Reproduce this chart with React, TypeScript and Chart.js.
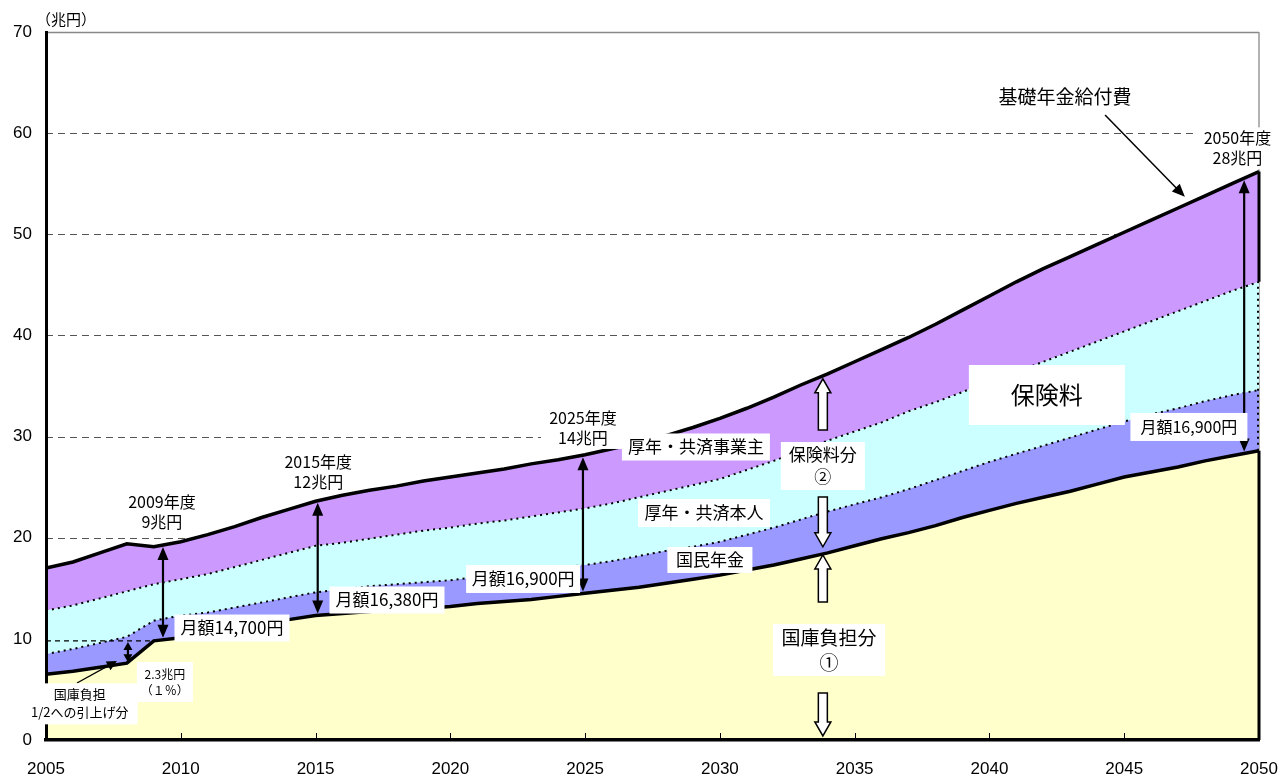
import React, { useEffect, useRef } from 'react';
import { Chart, registerables } from 'chart.js';

Chart.register(...registerables);

// ---- data (兆円) ----
const years = [
  2005, 2006, 2007, 2008, 2009, 2010, 2011, 2012, 2013, 2014,
  2015, 2016, 2017, 2018, 2019, 2020, 2021, 2022, 2023, 2024,
  2025, 2026, 2027, 2028, 2029, 2030, 2031, 2032, 2033, 2034,
  2035, 2036, 2037, 2038, 2039, 2040, 2041, 2042, 2043, 2044,
  2045, 2046, 2047, 2048, 2049, 2050,
];
// 国庫負担分 (top of yellow)
const kokkoTop = [
  6.5, 6.8, 7.2, 7.6, 9.8, 10.1, 10.5, 11.0, 11.4, 11.9,
  12.3, 12.5, 12.7, 12.9, 13.0, 13.2, 13.5, 13.7, 13.9, 14.2,
  14.5, 14.8, 15.1, 15.5, 15.9, 16.3, 16.8, 17.3, 17.9, 18.5,
  19.2, 19.9, 20.5, 21.2, 22.0, 22.7, 23.4, 24.0, 24.6, 25.3,
  26.0, 26.5, 27.0, 27.6, 28.1, 28.6,
];
// + 国民年金 (top of blue)
const kokuminTop = [
  8.5, 9.0, 9.6, 10.2, 11.8, 12.3, 12.6, 13.1, 13.6, 14.1,
  14.6, 14.9, 15.2, 15.4, 15.6, 15.8, 16.1, 16.4, 16.7, 17.0,
  17.3, 17.7, 18.2, 18.7, 19.1, 19.6, 20.3, 21.0, 21.8, 22.6,
  23.3, 24.0, 24.8, 25.7, 26.6, 27.5, 28.3, 29.1, 29.9, 30.7,
  31.5, 32.2, 32.8, 33.5, 34.1, 34.6,
];
// + 厚年・共済本人 (top of cyan)
const honninTop = [
  12.8, 13.3, 14.0, 14.7, 15.4, 15.9, 16.4, 17.1, 17.8, 18.5,
  19.2, 19.5, 19.9, 20.3, 20.7, 21.0, 21.4, 21.7, 22.1, 22.5,
  22.9, 23.4, 24.0, 24.6, 25.2, 25.8, 26.7, 27.6, 28.6, 29.6,
  30.5, 31.4, 32.5, 33.4, 34.4, 35.5, 36.4, 37.4, 38.4, 39.4,
  40.4, 41.4, 42.4, 43.4, 44.4, 45.3,
];
// 基礎年金給付費 (total, top of purple)
const totalTop = [
  17.0, 17.6, 18.5, 19.4, 19.1, 19.6, 20.3, 21.1, 22.0, 22.8,
  23.6, 24.2, 24.7, 25.1, 25.6, 26.0, 26.4, 26.8, 27.3, 27.7,
  28.2, 28.8, 29.4, 30.1, 30.9, 31.8, 32.8, 33.9, 35.1, 36.2,
  37.4, 38.6, 39.8, 41.1, 42.5, 43.9, 45.3, 46.6, 47.8, 49.0,
  50.2, 51.4, 52.6, 53.8, 55.0, 56.2,
];
const yTickValues = [0, 10, 20, 30, 40, 50, 60, 70];
const xTickValues = [2005, 2010, 2015, 2020, 2025, 2030, 2035, 2040, 2045, 2050];

const JP = '"Noto Sans CJK JP", sans-serif';

function interp(arr: number[], yr: number) {
  if (yr <= years[0]) return arr[0];
  for (let i = 0; i < years.length - 1; i++) {
    if (yr >= years[i] && yr <= years[i + 1]) {
      const t = (yr - years[i]) / (years[i + 1] - years[i]);
      return arr[i] + t * (arr[i + 1] - arr[i]);
    }
  }
  return arr[arr.length - 1];
}

function head(ctx: CanvasRenderingContext2D, x: number, y: number, ang: number, len: number, hw: number) {
  ctx.beginPath();
  ctx.moveTo(x, y);
  ctx.lineTo(x - len * Math.cos(ang) + hw * Math.sin(ang), y - len * Math.sin(ang) - hw * Math.cos(ang));
  ctx.lineTo(x - len * Math.cos(ang) - hw * Math.sin(ang), y - len * Math.sin(ang) + hw * Math.cos(ang));
  ctx.closePath();
  ctx.fill();
}

function arrow(ctx: CanvasRenderingContext2D, x1: number, y1: number, x2: number, y2: number, lw: number, len: number, hw: number, both: boolean) {
  const ang = Math.atan2(y2 - y1, x2 - x1);
  ctx.save();
  ctx.strokeStyle = '#000';
  ctx.fillStyle = '#000';
  ctx.lineWidth = lw;
  ctx.setLineDash([]);
  ctx.beginPath();
  ctx.moveTo(x1 + (both ? Math.cos(ang) * len * 0.6 : 0), y1 + (both ? Math.sin(ang) * len * 0.6 : 0));
  ctx.lineTo(x2 - Math.cos(ang) * len * 0.6, y2 - Math.sin(ang) * len * 0.6);
  ctx.stroke();
  head(ctx, x2, y2, ang, len, hw);
  if (both) head(ctx, x1, y1, ang + Math.PI, len, hw);
  ctx.restore();
}

function blockArrow(ctx: CanvasRenderingContext2D, x: number, yBase: number, yTip: number) {
  const dir = yTip < yBase ? -1 : 1;
  const sw = 4.5, hw = 8, hl = 14;
  const yNeck = yTip - dir * hl;
  ctx.save();
  ctx.beginPath();
  ctx.moveTo(x - sw, yBase);
  ctx.lineTo(x - sw, yNeck);
  ctx.lineTo(x - hw, yNeck);
  ctx.lineTo(x, yTip);
  ctx.lineTo(x + hw, yNeck);
  ctx.lineTo(x + sw, yNeck);
  ctx.lineTo(x + sw, yBase);
  ctx.closePath();
  ctx.fillStyle = '#fff';
  ctx.fill();
  ctx.strokeStyle = '#000';
  ctx.lineWidth = 1.5;
  ctx.setLineDash([]);
  ctx.stroke();
  ctx.restore();
}

function labelBox(ctx: CanvasRenderingContext2D, lines: string[], cx: number, cy: number, size: number, w: number, h: number, lh: number) {
  ctx.save();
  if (w > 0) {
    ctx.fillStyle = '#fff';
    ctx.fillRect(cx - w / 2, cy - h / 2, w, h);
  }
  ctx.fillStyle = '#000';
  ctx.font = `${size}px ${JP}`;
  ctx.textAlign = 'center';
  ctx.textBaseline = 'middle';
  const n = lines.length;
  lines.forEach((s, i) => {
    ctx.fillText(s, cx, cy + (i - (n - 1) / 2) * lh);
  });
  ctx.restore();
}

const overlay = {
  id: 'overlay',
  beforeDatasetsDraw(chart: any) {
    const { ctx, chartArea, scales } = chart;
    const ys = scales.y;
    ctx.save();
    ys.ticks.forEach((t: any) => {
      const v = t.value;
      if (v <= 0) return;
      const y = Math.round(ys.getPixelForValue(v)) + 0.5;
      ctx.beginPath();
      if (v >= 70) {
        ctx.setLineDash([]);
        ctx.strokeStyle = '#888';
        ctx.lineWidth = 1.5;
      } else {
        ctx.setLineDash([7, 5]);
        ctx.strokeStyle = '#555';
        ctx.lineWidth = 1;
      }
      ctx.moveTo(chartArea.left, y);
      ctx.lineTo(chartArea.right, y);
      ctx.stroke();
    });
    ctx.setLineDash([]);
    ctx.strokeStyle = '#999';
    ctx.lineWidth = 1.5;
    ctx.beginPath();
    ctx.moveTo(chartArea.right, chartArea.top);
    ctx.lineTo(chartArea.right, chartArea.bottom);
    ctx.stroke();
    ctx.restore();
  },
  afterDatasetsDraw(chart: any) {
    const { ctx, chartArea, scales } = chart;
    const X = (v: number) => scales.x.getPixelForValue(v);
    const Y = (v: number) => scales.y.getPixelForValue(v);
    const last = years[years.length - 1];
    const xr = X(last);

    // right edge
    ctx.save();
    ctx.strokeStyle = '#000';
    ctx.lineWidth = 3;
    ctx.beginPath();
    ctx.moveTo(xr, Y(0));
    ctx.lineTo(xr, Y(kokkoTop[kokkoTop.length - 1]));
    ctx.moveTo(xr, Y(honninTop[honninTop.length - 1]));
    ctx.lineTo(xr, Y(totalTop[totalTop.length - 1]));
    ctx.stroke();
    ctx.lineWidth = 2;
    ctx.setLineDash([2, 4]);
    ctx.beginPath();
    ctx.moveTo(xr - 1, Y(kokkoTop[kokkoTop.length - 1]));
    ctx.lineTo(xr - 1, Y(honninTop[honninTop.length - 1]));
    ctx.stroke();
    ctx.setLineDash([]);
    // inner x ticks
    ctx.lineWidth = 1;
    xTickValues.slice(1, -1).forEach((v) => {
      const x = Math.round(X(v)) + 0.5;
      ctx.beginPath();
      ctx.moveTo(x, chartArea.bottom);
      ctx.lineTo(x, chartArea.bottom - 7);
      ctx.stroke();
    });
    // dashed reference at 2009 level
    const i09 = years.indexOf(2009);
    const i08 = years.indexOf(2008);
    ctx.setLineDash([5, 4]);
    ctx.lineWidth = 1.2;
    ctx.beginPath();
    ctx.moveTo(X(years[0]), Y(kokkoTop[i09]));
    ctx.lineTo(X(2009), Y(kokkoTop[i09]));
    ctx.stroke();
    ctx.setLineDash([]);
    ctx.restore();

    // double arrows (保険料分)
    [2009.34, 2015.08, 2024.92, 2049.45].forEach((yr) => {
      arrow(ctx, X(yr), Y(interp(totalTop, yr)) + 2, X(yr), Y(interp(kokkoTop, yr)) - 2, 2.2, 13, 5.5, true);
    });
    // small double arrow (2.3兆円)
    arrow(ctx, X(2008.04), Y(kokkoTop[i08]) - 1, X(2008.04), Y(kokkoTop[i09]) + 1, 2.2, 8, 4.5, true);
    // pointer for 国庫負担 1/2
    arrow(ctx, X(2006.15), Y(5.64), X(2007.63), Y(7.81), 1.3, 10, 5, false);
    // pointer for 基礎年金給付費
    arrow(ctx, X(2044.29), Y(61.8), X(2047.25), Y(53.7), 1.5, 13, 5.5, false);

    // block arrows
    const xb = X(2033.82);
    blockArrow(ctx, xb, Y(30.65), Y(interp(totalTop, 2033.82)) + 3);
    blockArrow(ctx, xb, Y(24.03), Y(19.1));
    blockArrow(ctx, xb, Y(13.64), Y(interp(kokkoTop, 2033.82)) + 1);
    blockArrow(ctx, xb, Y(4.65), Y(0.4));

    // labels
    labelBox(ctx, ['2009年度', '9兆円'], X(2009.3), Y(22.55), 16, 0, 0, 20);
    labelBox(ctx, ['2015年度', '12兆円'], X(2015.1), Y(26.5), 16, 0, 0, 20);
    labelBox(ctx, ['2025年度', '14兆円'], X(2024.92), Y(30.85), 16, 84, 42, 20);
    labelBox(ctx, ['2050年度', '28兆円'], X(2049.2), Y(58.5), 16, 80, 42, 20);
    labelBox(ctx, ['月額14,700円'], X(2011.9), Y(11.07), 17, 115, 27, 0);
    labelBox(ctx, ['月額16,380円'], X(2017.65), Y(13.84), 17, 115, 27, 0);
    labelBox(ctx, ['月額16,900円'], X(2022.7), Y(15.92), 17, 114, 28, 0);
    labelBox(ctx, ['厚年・共済事業主'], X(2029.11), Y(28.97), 17, 148, 27, 0);
    labelBox(ctx, ['保険料分', '②'], X(2033.82), Y(27.09), 17, 84, 48, 22);
    labelBox(ctx, ['厚年・共済本人'], X(2029.41), Y(22.44), 17, 132, 28, 0);
    labelBox(ctx, ['国民年金'], X(2029.63), Y(17.8), 17, 85, 26, 0);
    labelBox(ctx, ['国庫負担分', '①'], X(2034.05), Y(8.9), 19, 112, 52, 25);
    labelBox(ctx, ['保険料'], X(2042.13), Y(34.11), 24, 156, 60, 0);
    labelBox(ctx, ['月額16,900円'], X(2047.4), Y(30.95), 16, 117, 28, 0);
    labelBox(ctx, ['基礎年金給付費'], X(2042.8), Y(63.58), 19, 0, 0, 0);
    labelBox(ctx, ['2.3兆円', '（１％）'], X(2009.41), Y(5.73), 12, 56, 40, 16);
  },
  afterDraw(chart: any) {
    const { ctx, chartArea, scales } = chart;
    const X = (v: number) => scales.x.getPixelForValue(v);
    const Y = (v: number) => scales.y.getPixelForValue(v);
    ctx.save();
    ctx.fillStyle = '#000';
    ctx.font = `15px ${JP}`;
    ctx.textAlign = 'center';
    ctx.textBaseline = 'middle';
    ctx.fillText('（兆円）', chartArea.left + 20, chartArea.top - 13);
    // 国庫負担 1/2 label box covers the axis line
    ctx.fillStyle = '#fff';
    ctx.fillRect(X(2004.3), Y(5.6), X(2008.4) - X(2004.3), Y(1.55) - Y(5.6));
    ctx.restore();
    labelBox(ctx, ['国庫負担', '1/2への引上げ分'], X(2006.25), Y(3.66), 13, 0, 0, 18);
  },
};

export default function App() {
  const ref = useRef<HTMLCanvasElement | null>(null);
  useEffect(() => {
    document.body.style.margin = '0';
    const canvas = ref.current;
    if (!canvas) return;
    const mk = (vals: number[]) => years.map((y, i) => ({ x: y, y: vals[i] }));
    const chart = new Chart(canvas, {
      type: 'line',
      data: {
        datasets: [
          {
            label: '国庫負担分',
            data: mk(kokkoTop),
            fill: 'origin',
            backgroundColor: '#FFFFCC',
            borderColor: '#000',
            borderWidth: 3.5,
            pointRadius: 0,
            tension: 0,
          },
          {
            label: '国民年金',
            data: mk(kokuminTop),
            fill: '-1',
            backgroundColor: '#9999FF',
            borderColor: '#000',
            borderWidth: 2,
            borderDash: [2, 4],
            pointRadius: 0,
            tension: 0,
          },
          {
            label: '厚年・共済本人',
            data: mk(honninTop),
            fill: '-1',
            backgroundColor: '#CCFFFF',
            borderColor: '#000',
            borderWidth: 2,
            borderDash: [2, 4],
            pointRadius: 0,
            tension: 0,
          },
          {
            label: '厚年・共済事業主',
            data: mk(totalTop),
            fill: '-1',
            backgroundColor: '#CC99FF',
            borderColor: '#000',
            borderWidth: 3.5,
            pointRadius: 0,
            tension: 0,
          },
        ],
      } as any,
      options: {
        responsive: false,
        animation: false,
        devicePixelRatio: 1,
        layout: { padding: { left: 0, right: 21, top: 32, bottom: 0 } },
        plugins: {
          legend: { display: false },
          tooltip: { enabled: false },
        },
        scales: {
          x: {
            type: 'linear',
            min: years[0],
            max: years[years.length - 1],
            afterFit: (s: any) => { s.height = 40; s.paddingLeft = 0; s.paddingRight = 0; },
            afterBuildTicks: (s: any) => { s.ticks = xTickValues.map((v) => ({ value: v })); },
            ticks: {
              callback: (v: any) => String(v),
              color: '#000',
              font: { family: '"Liberation Sans", Arial, sans-serif', size: 17 },
              padding: 11,
              maxRotation: 0,
              autoSkip: false,
            },
            grid: { display: false },
            border: { display: true, color: '#000', width: 3.5, z: 1 },
          },
          y: {
            min: 0,
            max: 70,
            afterFit: (s: any) => { s.width = 46; s.paddingTop = 0; s.paddingBottom = 0; },
            afterBuildTicks: (s: any) => { s.ticks = yTickValues.map((v) => ({ value: v })); },
            ticks: {
              color: '#000',
              font: { family: '"Liberation Sans", Arial, sans-serif', size: 17 },
              padding: 6,
            },
            grid: { display: false },
            border: { display: true, color: '#000', width: 3, z: 1 },
          },
        },
      } as any,
      plugins: [overlay],
    });
    return () => chart.destroy();
  }, []);
  return (
    <div style={{ position: 'absolute', left: 0, top: 0, width: 1280, height: 780, background: '#fff' }}>
      <canvas ref={ref} width={1280} height={780} />
    </div>
  );
}
